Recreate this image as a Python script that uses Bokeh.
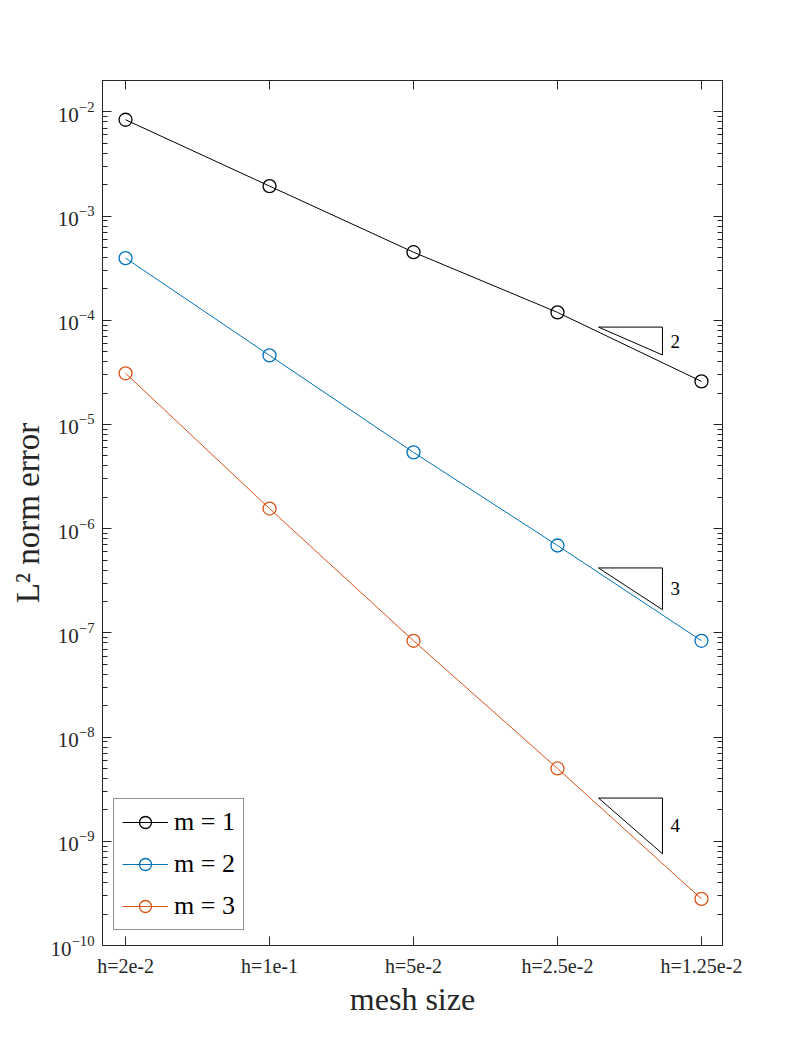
from bokeh.plotting import figure
from bokeh.models import (Range1d, FixedTicker, LogAxis, LinearAxis, LogTickFormatter,
                          Legend, LegendItem, ColumnDataSource)
from bokeh.core.properties import value
from bokeh.embed import file_html
from bokeh.resources import INLINE
import numpy as np

# ---------------- data ----------------
mesh_idx = [1, 2, 3, 4, 5]
mesh_labels = ["h=2e-2", "h=1e-1", "h=5e-2", "h=2.5e-2", "h=1.25e-2"]
err_m1 = [8.4e-3, 1.94e-3, 4.5e-4, 1.19e-4, 2.59e-5]
err_m2 = [3.95e-4, 4.6e-5, 5.4e-6, 6.9e-7, 8.4e-8]
err_m3 = [3.1e-5, 1.56e-6, 8.4e-8, 5.0e-9, 2.8e-10]
series_names = ["m = 1", "m = 2", "m = 3"]
series_colors = ["#000000", "#0072BD", "#D95319"]

# slope triangles: orders, top-left y and x extent
tri_orders = [2, 3, 4]
tri_top = [8.6e-5, 4.2e-7, 2.6e-9]
tri_x0 = 4.285
tri_x1 = 4.729

FONT = "Liberation Serif"
AX = "#262626"

p = figure(width=798, height=1063, output_backend="svg", toolbar_location=None,
           y_axis_type="log", x_range=Range1d(0.84, 5.146), y_range=Range1d(1e-10, 0.02),
           min_border_left=102, min_border_right=76, min_border_top=80, min_border_bottom=118)
p.grid.visible = False
p.outline_line_color = AX
p.outline_line_width = 1
p.background_fill_color = "white"
p.border_fill_color = "white"

major = [10.0 ** e for e in range(-10, -1)]
minor = [k * 10.0 ** e for e in range(-10, -1) for k in range(2, 10) if k * 10.0 ** e <= 0.02]
yt = FixedTicker(ticks=major, minor_ticks=minor)
xt = FixedTicker(ticks=mesh_idx, minor_ticks=[])

def style(ax, labels=True):
    ax.axis_line_color = AX
    ax.major_tick_line_color = AX
    ax.minor_tick_line_color = AX
    ax.major_tick_in = 9
    ax.major_tick_out = 0
    ax.minor_tick_in = 5
    ax.minor_tick_out = 0
    ax.major_label_text_font = FONT
    ax.major_label_text_color = AX
    if not labels:
        ax.major_label_text_font_size = "0px"
        ax.major_label_text_alpha = 0

ya = p.yaxis[0]
ya.ticker = yt
ya.formatter = LogTickFormatter()
style(ya)
ya.major_label_text_font_size = "21px"
ya.major_label_standoff = 8
ya.axis_label = "L² norm error"
ya.axis_label_text_font = FONT
ya.axis_label_text_font_style = "normal"
ya.axis_label_text_font_size = "33px"
ya.axis_label_text_color = AX
ya.axis_label_standoff = 2

xa = p.xaxis[0]
xa.ticker = xt
xa.major_label_overrides = {i: s for i, s in zip(mesh_idx, mesh_labels)}
style(xa)
xa.major_label_text_font_size = "20px"
xa.major_label_standoff = 9
xa.axis_label = "mesh size"
xa.axis_label_text_font = FONT
xa.axis_label_text_font_style = "normal"
xa.axis_label_text_font_size = "32px"
xa.axis_label_text_color = AX
xa.axis_label_standoff = 1

ra = LogAxis(ticker=yt)
style(ra, labels=False)
p.add_layout(ra, "right")
ta = LinearAxis(ticker=xt)
style(ta, labels=False)
p.add_layout(ta, "above")

items = []
for name, col, vals in zip(series_names, series_colors, [err_m1, err_m2, err_m3]):
    src = ColumnDataSource(dict(x=mesh_idx, y=vals))
    l = p.line("x", "y", source=src, line_color=col, line_width=1)
    c = p.scatter("x", "y", source=src, marker="circle", size=13, fill_color=None,
                  line_color=col, line_width=1.3)
    items.append(LegendItem(label=name, renderers=[l, c]))

# slope triangles
log2 = np.log10(2.0)
for order, top in zip(tri_orders, tri_top):
    bot = top * 10 ** (-order * log2 * (tri_x1 - tri_x0))
    p.line([tri_x0, tri_x1, tri_x1, tri_x0], [top, top, bot, top], line_color="black", line_width=1)
    p.text([tri_x1 + 0.055], [np.sqrt(top * bot)], text=[str(order)], text_font=value(FONT),
           text_font_size="19px", text_baseline="middle", text_align="left", text_color="black")

leg = Legend(items=items, location=(11, 15))
leg.label_text_font = FONT
leg.label_text_font_size = "26px"
leg.label_text_color = "black"
leg.glyph_width = 46
leg.glyph_height = 30
leg.spacing = 12
leg.padding = 8
leg.margin = 0
leg.label_standoff = 6
leg.border_line_color = AX
leg.border_line_width = 1
leg.background_fill_alpha = 1
p.add_layout(leg, "center")

open("out.html", "w").write(file_html(p, INLINE))
